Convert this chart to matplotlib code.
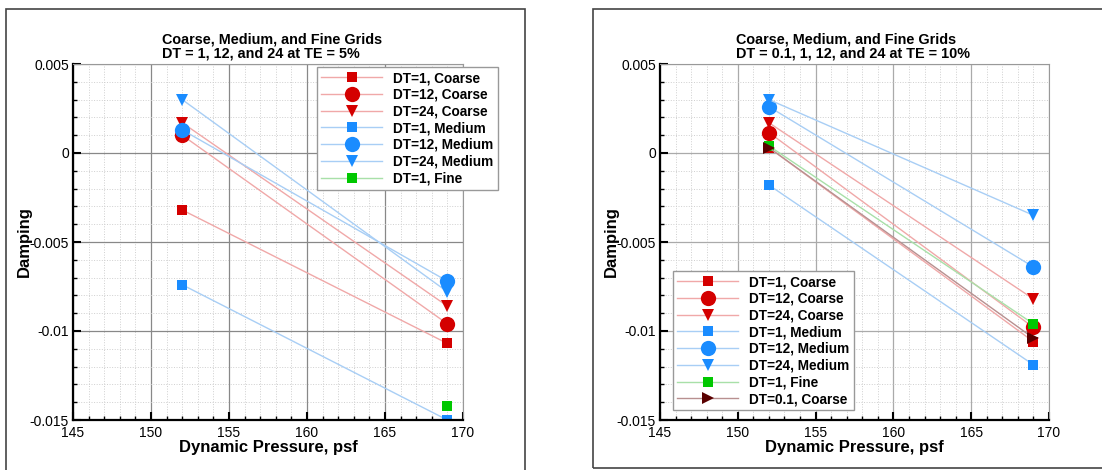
import numpy as np
import matplotlib.pyplot as plt
from matplotlib.ticker import MultipleLocator, FuncFormatter
from matplotlib.patches import Rectangle

plt.rcParams['font.family'] = ['Liberation Sans', 'DejaVu Sans']

#%%
# Damping vs dynamic pressure
q = [152, 169]

# TE = 5%
te5_dt1_coarse = [-0.0032, -0.0107]
te5_dt12_coarse = [0.0010, -0.0096]
te5_dt24_coarse = [0.0017, -0.0086]
te5_dt1_medium = [-0.0074, -0.0150]
te5_dt12_medium = [0.0013, -0.0072]
te5_dt24_medium = [0.0030, -0.0078]
te5_fine_q = [169]
te5_dt1_fine = [-0.0142]

# TE = 10%
te10_dt1_coarse = [0.0003, -0.0106]
te10_dt12_coarse = [0.00115, -0.0098]
te10_dt24_coarse = [0.0017, -0.0082]
te10_dt1_medium = [-0.0018, -0.0119]
te10_dt12_medium = [0.0026, -0.0064]
te10_dt24_medium = [0.0030, -0.0035]
te10_dt1_fine = [0.0004, -0.0096]
te10_dt01_coarse = [0.0003, -0.0104]

titles = ['Coarse, Medium, and Fine Grids\nDT = 1, 12, and 24 at TE = 5%',
          'Coarse, Medium, and Fine Grids\nDT = 0.1, 1, 12, and 24 at TE = 10%']

# marker, marker colour, line colour, marker size
red, red_l = '#d40000', '#f0a8a8'
blue, blue_l = '#1a8cff', '#a8cef5'
green, green_l = '#00c800', '#a8e0a8'
dred, dred_l = '#5a0000', '#b89090'
styles = {
    'DT=1, Coarse': ('s', red, red_l, 7.5),
    'DT=12, Coarse': ('o', red, red_l, 11),
    'DT=24, Coarse': ('v', red, red_l, 9),
    'DT=1, Medium': ('s', blue, blue_l, 7.5),
    'DT=12, Medium': ('o', blue, blue_l, 11),
    'DT=24, Medium': ('v', blue, blue_l, 9),
    'DT=1, Fine': ('s', green, green_l, 7.5),
    'DT=0.1, Coarse': ('>', dred, dred_l, 9),
}

series_5 = [('DT=1, Coarse', q, te5_dt1_coarse),
            ('DT=12, Coarse', q, te5_dt12_coarse),
            ('DT=24, Coarse', q, te5_dt24_coarse),
            ('DT=1, Medium', q, te5_dt1_medium),
            ('DT=12, Medium', q, te5_dt12_medium),
            ('DT=24, Medium', q, te5_dt24_medium),
            ('DT=1, Fine', te5_fine_q, te5_dt1_fine)]

series_10 = [('DT=1, Coarse', q, te10_dt1_coarse),
             ('DT=12, Coarse', q, te10_dt12_coarse),
             ('DT=24, Coarse', q, te10_dt24_coarse),
             ('DT=1, Medium', q, te10_dt1_medium),
             ('DT=12, Medium', q, te10_dt12_medium),
             ('DT=24, Medium', q, te10_dt24_medium),
             ('DT=1, Fine', q, te10_dt1_fine),
             ('DT=0.1, Coarse', q, te10_dt01_coarse)]

#%%
W, H = 1102, 470
fig = plt.figure(figsize=(W / 100, H / 100), dpi=100)

# panel frames
fig.add_artist(Rectangle((6 / W, -0.1), 519 / W, 1.1 - 9 / H, transform=fig.transFigure,
                         fill=False, lw=1.2, ec='#444'))
fig.add_artist(Rectangle((593 / W, 2 / H), 0.6, 1 - 11 / H, transform=fig.transFigure,
                         fill=False, lw=1.2, ec='#444'))

ax1 = fig.add_axes([73 / W, 50 / H, 390 / W, 356 / H])
ax2 = fig.add_axes([660 / W, 50 / H, 389 / W, 356 / H])


def setup(ax, series, title, title_x, leg_xy, grid_c):
    for label, x, y in series:
        m, mc, lc, ms = styles[label]
        ax.plot(x, y, color=lc, lw=1, marker=m, ms=ms, mfc=mc, mec=mc, mew=0, label=label)

    ax.set_xlim(145, 170)
    ax.set_ylim(-0.015, 0.005)
    ax.xaxis.set_major_locator(MultipleLocator(5))
    ax.xaxis.set_minor_locator(MultipleLocator(1))
    ax.yaxis.set_major_locator(MultipleLocator(0.005))
    ax.yaxis.set_minor_locator(MultipleLocator(0.001))
    ax.yaxis.set_major_formatter(FuncFormatter(lambda v, p: '%g' % round(v, 6)))

    ax.grid(which='major', color=grid_c, lw=0.9, ls='-')
    ax.grid(which='minor', color='#cfcfcf', lw=0.7, ls=':')
    ax.set_axisbelow(True)

    ax.tick_params(which='major', direction='in', length=6, width=1.5, labelsize=10, pad=3)
    ax.tick_params(axis='x', which='major', pad=4.5)
    ax.tick_params(which='minor', direction='in', length=3, width=1)
    for s in ['left', 'bottom']:
        ax.spines[s].set_linewidth(1.6)
        ax.spines[s].set_color('black')
    for s in ['top', 'right']:
        ax.spines[s].set_linewidth(0.8)
        ax.spines[s].set_color('#999')

    ax.set_xlabel('Dynamic Pressure, psf', fontsize=12, fontweight='bold')
    ax.set_ylabel('Damping', fontsize=12, fontweight='bold')
    ax.xaxis.set_label_coords(0.5, -0.055)
    ax.yaxis.set_label_coords(-0.105, 0.5)

    fig.text(title_x / W, 1 - 46 / H, title, ha='center', va='center', multialignment='left',
             fontsize=10.4, fontweight='bold', linespacing=1.0)

    leg = ax.legend(loc='upper left', bbox_to_anchor=(leg_xy[0] / W, 1 - leg_xy[1] / H),
                    bbox_transform=fig.transFigure, borderaxespad=0,
                    prop=dict(weight='bold', size=9.8), handlelength=4.5, handletextpad=0.8,
                    labelspacing=0.2, borderpad=0.3, fancybox=False, framealpha=1,
                    edgecolor='#999')
    leg.get_frame().set_linewidth(1)


setup(ax1, series_5, titles[0], 272, (317, 67), '#888')
setup(ax2, series_10, titles[1], 853, (673, 271), '#aaa')

plt.savefig('out.png', dpi=100)
